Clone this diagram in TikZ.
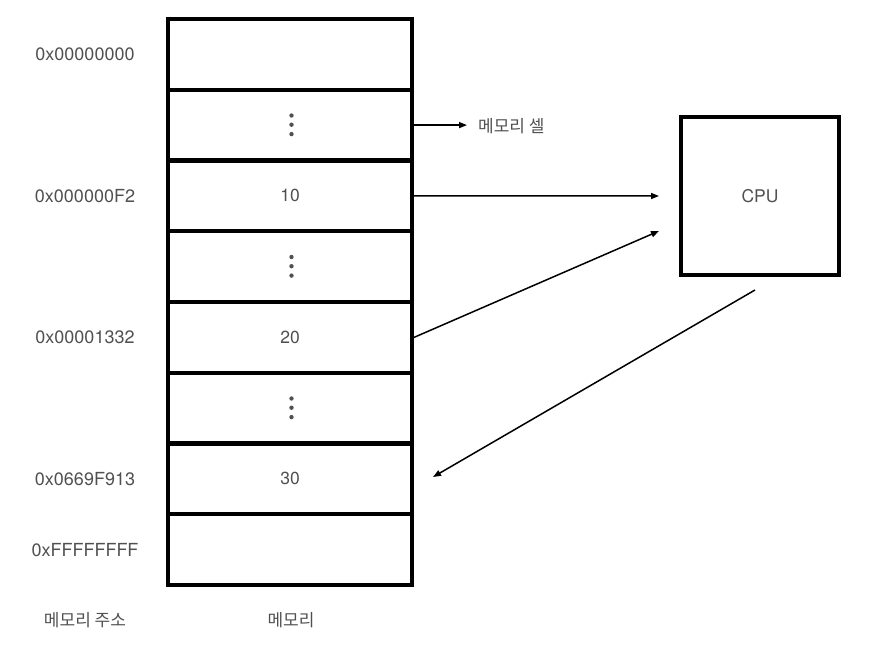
\documentclass[tikz,border=0pt]{standalone}
\usepackage{fontspec}
\setmainfont{TeX Gyre Heros}
\newfontfamily\kr{Noto Sans CJK KR}
\usetikzlibrary{arrows.meta}
\definecolor{txt}{RGB}{80,80,80}
\begin{document}
\begin{tikzpicture}[x=1bp,y=-1bp,
  cellbox/.style={draw=black, line width=4bp, minimum width=244bp, minimum height=70.75bp, inner sep=0pt, text=txt, font=\fontsize{17.5bp}{21bp}\selectfont},
  addr/.style={text=txt, inner sep=0pt, font=\fontsize{18bp}{21bp}\selectfont},
  krlbl/.style={text=txt, inner sep=0pt, font=\kr\fontsize{17bp}{20bp}\selectfont},
  arr/.style={line width=1.5bp, -{Triangle[length=8bp,width=6bp]}},
  dot/.style={fill=txt, circle, inner sep=0pt, minimum size=4.4bp},
]
\useasboundingbox (0,0) rectangle (873,652);

% memory cells
\node[cellbox] (c1) at (290,54.4) {};
\node[cellbox] (c2) at (290,125.1) {};
\node[cellbox] (c3) at (290,195.9) {10};
\node[cellbox] (c4) at (290,266.6) {};
\node[cellbox] (c5) at (290,337.4) {20};
\node[cellbox] (c6) at (290,408.1) {};
\node[cellbox] (c7) at (290,478.9) {30};
\node[cellbox] (c8) at (290,549.6) {};

% vertical ellipses
\foreach \c in {c2,c4,c6}{
  \node[dot] at ([xshift=1.5bp,yshift=-9bp]\c.center) {};
  \node[dot] at ([xshift=1.5bp,yshift=0.4bp]\c.center) {};
  \node[dot] at ([xshift=1.5bp,yshift=9.6bp]\c.center) {};
}

% addresses
\node[addr] (a1) at (85,54.4) {0x00000000};
\node[addr] (a3) at (85,195.9) {0x000000F2};
\node[addr] (a5) at (85,337.4) {0x00001332};
\node[addr] (a7) at (85,478.9) {0x0669F913};
\node[addr] (a8) at (85,549.6) {0xFFFFFFFF};

% bottom captions
\node[krlbl] (capaddr) at (85,620) {메모리 주소};
\node[krlbl] (capmem) at (291,620) {메모리};

% memory cell label
\node[krlbl, anchor=west] (cell) at (478,126) {메모리 셀};

% CPU
\node[draw=black, line width=4bp, minimum width=158bp, minimum height=158bp, inner sep=0pt, text=txt, font=\fontsize{17.5bp}{21bp}\selectfont] (cpu) at (760,196) {CPU};

\coordinate (in1) at (659,196);
\coordinate (in2) at (659,231);
\coordinate (out) at (755,290);
\coordinate (back) at (433,477);

\draw[arr] (c2.east) -- ([xshift=-11bp]c2.east -| cell.west);
\draw[arr] (c3.east) -- (in1);
\draw[arr] (c5.east) -- (in2);
\draw[arr] (out) -- (back);
\end{tikzpicture}
\end{document}
